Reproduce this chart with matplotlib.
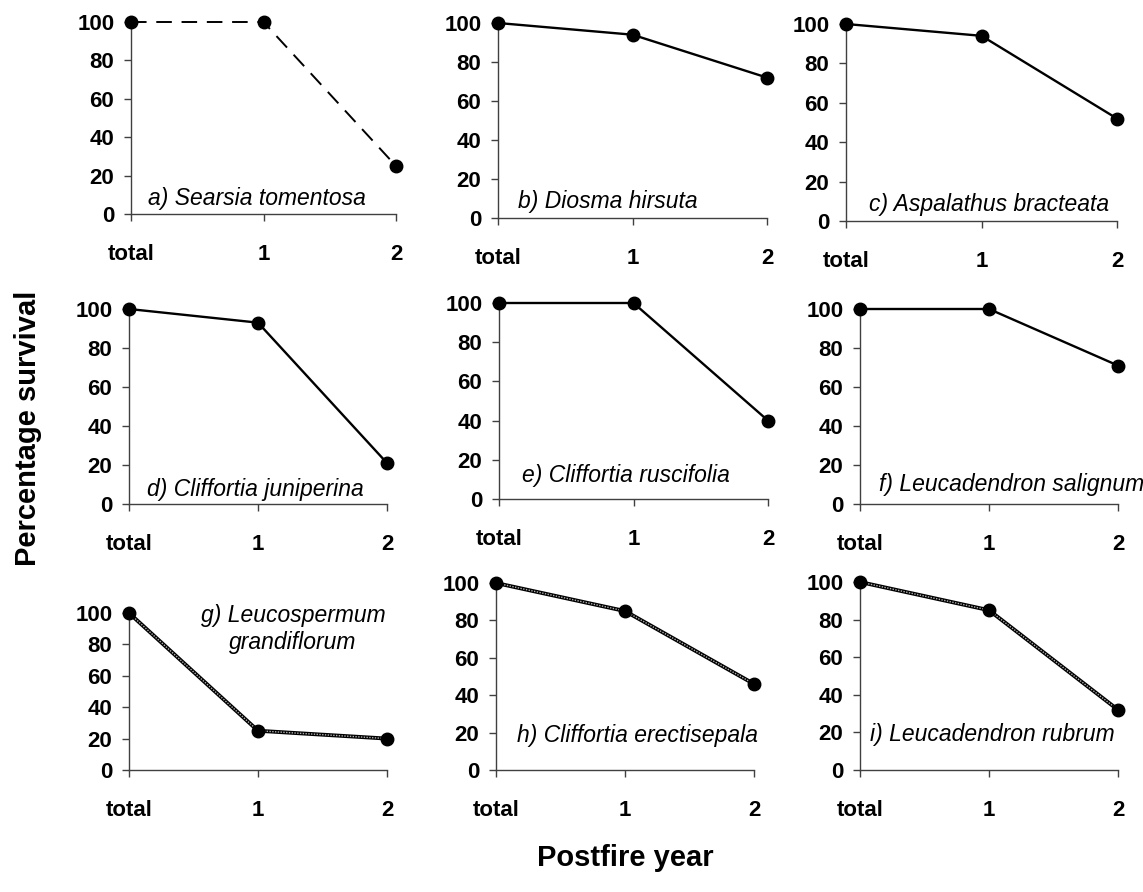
import matplotlib
matplotlib.use('Agg')
import matplotlib.pyplot as plt

plt.rcParams['font.family'] = ['Liberation Sans', 'DejaVu Sans']

# postfire survival (%) per species: total, year 1, year 2
years = ['total', '1', '2']

searsia = [100, 100, 25]
diosma = [100, 94, 72]
aspalathus = [100, 94, 52]
juniperina = [100, 93, 21]
ruscifolia = [100, 100, 40]
salignum = [100, 100, 71]
leucospermum = [100, 25, 20]
erectisepala = [100, 85, 46]
rubrum = [100, 85, 32]

names = ['a) Searsia tomentosa', 'b) Diosma hirsuta', 'c) Aspalathus bracteata',
         'd) Cliffortia juniperina', 'e) Cliffortia ruscifolia', 'f) Leucadendron salignum',
         'g) Leucospermum\ngrandiflorum', 'h) Cliffortia erectisepala', 'i) Leucadendron rubrum']

W, H = 1143, 892
fig = plt.figure(figsize=(W / 100, H / 100), dpi=100)

# panel boxes in pixels: left, top, right, bottom
boxes = [
    (131, 22, 396, 214), (498, 23, 767, 218), (846, 24, 1117, 221),
    (129, 309, 387, 504), (499, 303, 768, 499), (860, 309, 1118, 504),
    (129, 613, 387, 770), (496, 583, 754, 770), (860, 582, 1118, 770),
]
# where each species name sits (data coords) and how it is aligned
label_pos = [
    (0.13, 8, 'left'), (0.15, 8.5, 'left'), (0.17, 8.6, 'left'),
    (0.14, 7.3, 'left'), (0.17, 11.8, 'left'), (0.145, 9.9, 'left'),
    (1.27, 89.7, 'center'), (0.16, 18.7, 'left'), (0.075, 18.7, 'left'),
]
styles = ['dash'] + ['solid'] * 5 + ['hatch'] * 3
series = [searsia, diosma, aspalathus, juniperina, ruscifolia, salignum,
          leucospermum, erectisepala, rubrum]

x = [0, 1, 2]
axis_col = '#404040'

for vals, name, box, lp, st in zip(series, names, boxes, label_pos, styles):
    l, t, r, b = box
    ax = fig.add_axes([l / W, 1 - b / H, (r - l) / W, (b - t) / H])
    if st == 'dash':
        ax.plot(x, vals, color='black', lw=1.4, dashes=(8, 5), clip_on=False, zorder=3)
    elif st == 'solid':
        ax.plot(x, vals, color='black', lw=1.7, clip_on=False, zorder=3)
    else:
        ax.plot(x, vals, color='black', lw=2.8, clip_on=False, zorder=3)
        ax.plot(x, vals, color='#b0b0b0', lw=1.0, linestyle=(0, (1, 1)), clip_on=False, zorder=3)
    ax.plot(x, vals, 'o', color='black', ms=9, clip_on=False, zorder=4)

    ax.set_xlim(0, 2)
    ax.set_ylim(0, 100)
    ax.set_xticks(x)
    ax.set_xticklabels(years)
    ax.set_yticks(range(0, 101, 20))
    for side in ['top', 'right']:
        ax.spines[side].set_visible(False)
    for side in ['left', 'bottom']:
        ax.spines[side].set_color(axis_col)
        ax.spines[side].set_linewidth(1.0)
    ax.tick_params(axis='both', direction='out', length=5, width=1.0, color=axis_col,
                   labelsize=16)
    ax.tick_params(axis='x', pad=16.5)
    ax.tick_params(axis='y', pad=7)
    for lab in ax.get_xticklabels() + ax.get_yticklabels():
        lab.set_fontweight('bold')

    ax.text(lp[0], lp[1], name, fontsize=16.5, style='italic', ha=lp[2], va='center',
            multialignment='center', linespacing=1.2, clip_on=False)

fig.text(28 / W, 1 - 428 / H, 'Percentage survival', rotation=90, fontsize=21,
         fontweight='bold', ha='center', va='center')
fig.text(625 / W, 1 - 858 / H, 'Postfire year', fontsize=21, fontweight='bold',
         ha='center', va='center')

fig.savefig('out.png', dpi=100)
